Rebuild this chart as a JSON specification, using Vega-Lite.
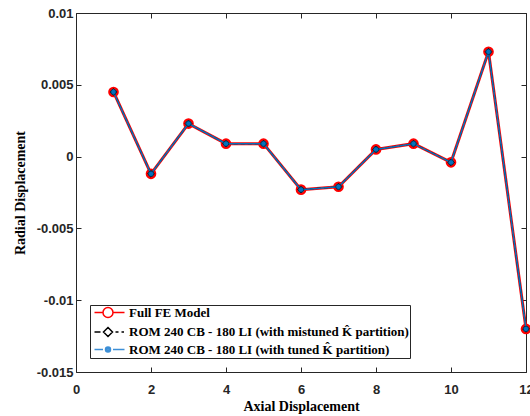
{
  "$schema": "https://vega.github.io/schema/vega-lite/v6.json",
  "width": 450,
  "height": 359,
  "autosize": {"type": "none"},
  "padding": {"left": 76, "top": 13, "right": 4, "bottom": 44},
  "background": "white",
  "config": {
    "view": {"stroke": "#262626", "strokeWidth": 1},
    "axis": {"grid": false, "domain": false, "tickColor": "#262626", "tickSize": -5, "labelFont": "Liberation Sans", "labelFontWeight": "bold", "labelFontSize": 13, "labelColor": "#262626", "titleFont": "Liberation Serif", "titleFontWeight": "bold", "titleFontSize": 14, "titleColor": "#000000", "labelFlush": false, "labelOverlap": false}
  },
  "data": {
    "values": [
      {"x": 1, "y": 0.0045, "s": "fe"}, {"x": 2, "y": -0.0012, "s": "fe"}, {"x": 3, "y": 0.0023, "s": "fe"}, {"x": 4, "y": 0.0009, "s": "fe"}, {"x": 5, "y": 0.0009, "s": "fe"}, {"x": 6, "y": -0.0023, "s": "fe"}, {"x": 7, "y": -0.0021, "s": "fe"}, {"x": 8, "y": 0.0005, "s": "fe"}, {"x": 9, "y": 0.0009, "s": "fe"}, {"x": 10, "y": -0.0004, "s": "fe"}, {"x": 11, "y": 0.0073, "s": "fe"}, {"x": 12, "y": -0.012, "s": "fe"},
      {"x": 1, "y": 0.0045, "s": "mis"}, {"x": 2, "y": -0.0012, "s": "mis"}, {"x": 3, "y": 0.0023, "s": "mis"}, {"x": 4, "y": 0.0009, "s": "mis"}, {"x": 5, "y": 0.0009, "s": "mis"}, {"x": 6, "y": -0.0023, "s": "mis"}, {"x": 7, "y": -0.0021, "s": "mis"}, {"x": 8, "y": 0.0005, "s": "mis"}, {"x": 9, "y": 0.0009, "s": "mis"}, {"x": 10, "y": -0.0004, "s": "mis"}, {"x": 11, "y": 0.0073, "s": "mis"}, {"x": 12, "y": -0.012, "s": "mis"},
      {"x": 1, "y": 0.0045, "s": "tuned"}, {"x": 2, "y": -0.0012, "s": "tuned"}, {"x": 3, "y": 0.0023, "s": "tuned"}, {"x": 4, "y": 0.0009, "s": "tuned"}, {"x": 5, "y": 0.0009, "s": "tuned"}, {"x": 6, "y": -0.0023, "s": "tuned"}, {"x": 7, "y": -0.0021, "s": "tuned"}, {"x": 8, "y": 0.0005, "s": "tuned"}, {"x": 9, "y": 0.0009, "s": "tuned"}, {"x": 10, "y": -0.0004, "s": "tuned"}, {"x": 11, "y": 0.0073, "s": "tuned"}, {"x": 12, "y": -0.012, "s": "tuned"}
    ]
  },
  "resolve": {"axis": {"x": "independent", "y": "independent"}},
  "layer": [
    {
      "transform": [{"filter": "datum.s === 'fe'"}],
      "mark": {"type": "line", "color": "#ff0000", "strokeWidth": 3},
      "encoding": {
        "x": {"field": "x", "type": "quantitative", "scale": {"domain": [0, 12], "nice": false, "zero": false},
          "axis": {"orient": "bottom", "values": [0, 2, 4, 6, 8, 10, 12], "labelPadding": 16, "title": "Axial Displacement", "titlePadding": 3}},
        "y": {"field": "y", "type": "quantitative", "scale": {"domain": [-0.015, 0.01], "nice": false, "zero": false},
          "axis": {"orient": "left", "values": [-0.015, -0.01, -0.005, 0, 0.005, 0.01], "labelExpr": "replace(format(datum.value, '~g'), '\u2212', '-')", "labelPadding": 8, "title": "Radial Displacement", "titlePadding": 9}}
      }
    },
    {
      "transform": [{"filter": "datum.s === 'fe'"}],
      "mark": {"type": "point", "shape": "circle", "size": 65, "filled": false, "stroke": "#ff0000", "strokeWidth": 2.6, "opacity": 1},
      "encoding": {
        "x": {"field": "x", "type": "quantitative", "axis": null},
        "y": {"field": "y", "type": "quantitative", "axis": null}
      }
    },
    {
      "transform": [{"filter": "datum.s === 'mis'"}],
      "mark": {"type": "line", "color": "#000000", "strokeWidth": 1.2, "strokeDash": [4, 3]},
      "encoding": {
        "x": {"field": "x", "type": "quantitative", "axis": null},
        "y": {"field": "y", "type": "quantitative", "axis": null}
      }
    },
    {
      "transform": [{"filter": "datum.s === 'mis'"}],
      "mark": {"type": "point", "shape": "diamond", "size": 45, "filled": true, "fill": "white", "stroke": "#000000", "strokeWidth": 1, "opacity": 1},
      "encoding": {
        "x": {"field": "x", "type": "quantitative", "axis": null},
        "y": {"field": "y", "type": "quantitative", "axis": null}
      }
    },
    {
      "transform": [{"filter": "datum.s === 'tuned'"}],
      "mark": {"type": "line", "color": "#0072bd", "strokeWidth": 1.5},
      "encoding": {
        "x": {"field": "x", "type": "quantitative", "axis": null},
        "y": {"field": "y", "type": "quantitative", "axis": null}
      }
    },
    {
      "transform": [{"filter": "datum.s === 'tuned'"}],
      "mark": {"type": "point", "shape": "circle", "size": 30, "filled": true, "fill": "#0072bd", "stroke": "#0a2540", "strokeWidth": 0.8, "opacity": 1},
      "encoding": {
        "x": {"field": "x", "type": "quantitative", "axis": null},
        "y": {"field": "y", "type": "quantitative", "axis": null}
      }
    },
    {
      "mark": {"type": "point", "filled": false, "opacity": 0},
      "encoding": {
        "x": {"field": "x", "type": "quantitative", "axis": {"orient": "top", "values": [0, 2, 4, 6, 8, 10, 12], "labels": false, "title": null}},
        "y": {"field": "y", "type": "quantitative", "axis": {"orient": "right", "values": [-0.015, -0.01, -0.005, 0, 0.005, 0.01], "labels": false, "title": null}},
        "color": {"field": "s", "type": "nominal",
          "scale": {"domain": ["fe", "mis", "tuned"], "range": ["#ff0000", "#000000", "#3d8fd6"]},
          "legend": {"orient": "none", "legendX": 14, "legendY": 292, "title": null, "strokeColor": "#262626", "fillColor": "white", "padding": 1, "symbolSize": 100, "symbolOpacity": 1, "labelOffset": 25, "labelLimit": 400, "labelFont": "Liberation Serif", "labelFontSize": 13, "labelFontWeight": "bold", "labelColor": "#000000", "rowPadding": 3.5,
            "labelExpr": "datum.value === 'fe' ? 'Full FE Model' : datum.value === 'mis' ? 'ROM 240 CB - 180 LI (with mistuned K\u0302 partition)' : 'ROM 240 CB - 180 LI (with tuned K\u0302 partition)'",
            "encode": {"symbols": {"update": {"strokeWidth": {"signal": "datum.value === 'fe' ? 2.6 : 1.2"}}}}}},
        "shape": {"field": "s", "type": "nominal",
          "scale": {"domain": ["fe", "mis", "tuned"], "range": [
            "M-0.6,0L1.1,0M3.1,0L5.4,0M3.1,0A1,1,0,1,1,1.1,0A1,1,0,1,1,3.1,0",
            "M-0.6,0L0.6,0M2.1,-0.9L3,0L2.1,0.9L1.2,0ZM3.6,0L4.2,0M4.8,0L5.3,0",
            "M-0.6,0L1.1,0M3.1,0L5.4,0M2.6,0A0.5,0.5,0,1,1,1.6,0A0.5,0.5,0,1,1,2.6,0M2.35,0A0.25,0.25,0,1,1,1.85,0A0.25,0.25,0,1,1,2.35,0M2.2,0A0.1,0.1,0,1,1,2,0A0.1,0.1,0,1,1,2.2,0"
          ]},
          "legend": {"orient": "none", "legendX": 14, "legendY": 292, "title": null, "strokeColor": "#262626", "fillColor": "white", "padding": 1, "symbolSize": 100, "symbolOpacity": 1, "labelOffset": 25, "labelLimit": 400, "labelFont": "Liberation Serif", "labelFontSize": 13, "labelFontWeight": "bold", "labelColor": "#000000", "rowPadding": 3.5,
            "labelExpr": "datum.value === 'fe' ? 'Full FE Model' : datum.value === 'mis' ? 'ROM 240 CB - 180 LI (with mistuned K\u0302 partition)' : 'ROM 240 CB - 180 LI (with tuned K\u0302 partition)'",
            "encode": {"symbols": {"update": {"strokeWidth": {"signal": "datum.value === 'fe' ? 2.6 : 1.2"}}}}}}
      }
    }
  ]
}
